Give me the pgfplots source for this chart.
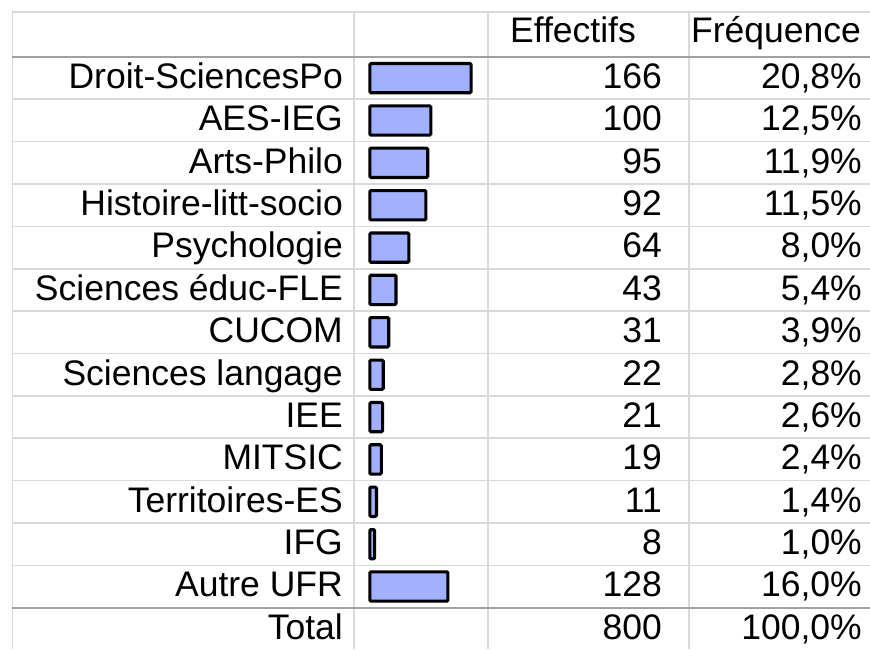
\documentclass[border=0pt]{standalone}
\usepackage{fontspec}
\setmainfont{Liberation Sans}
\usepackage{pgfplots}
\pgfplotsset{compat=1.18}
\usepackage{pgfplotstable}
\definecolor{barfill}{RGB}{161,176,255}
\definecolor{gridl}{RGB}{217,217,217}
\definecolor{gridd}{RGB}{160,160,160}

\pgfplotstableread[col sep=semicolon]{
label;n;freq;yc
Droit-SciencesPo;166;20,8\%;78.1
AES-IEG;100;12,5\%;120.5
Arts-Philo;95;11,9\%;162.8
Histoire-litt-socio;92;11,5\%;205.2
Psychologie;64;8,0\%;247.6
Sciences éduc-FLE;43;5,4\%;289.9
CUCOM;31;3,9\%;332.3
Sciences langage;22;2,8\%;374.7
IEE;21;2,6\%;417.1
MITSIC;19;2,4\%;459.4
Territoires-ES;11;1,4\%;501.8
IFG;8;1,0\%;544.2
Autre UFR;128;16,0\%;586.5
}\datatable

\begin{document}
\begin{tikzpicture}[x=1pt,y=-1pt]
\useasboundingbox (0,0) rectangle (870,649);
% grid
\foreach \k in {1,...,12}{
  \draw[gridl, line width=1.6pt] (12,{56.9+42.37*\k}) -- (870,{56.9+42.37*\k});
}
\draw[gridl, line width=1.6pt] (12,11.7) -- (870,11.7);
\foreach \xx in {12.3,354,488,689}{
  \draw[gridl, line width=1.6pt] (\xx,11.7) -- (\xx,649);
}
\draw[gridd, line width=1.8pt] (12,56.9) -- (870,56.9);
\draw[gridd, line width=1.8pt] (12,607.7) -- (870,607.7);

\begin{axis}[
  at={(0,0)}, anchor=north west,
  scale only axis, width=870pt, height=649pt,
  hide axis, clip=false,
  xmin=-606.2, xmax=820.0,
  ymin=0, ymax=649, y dir=reverse,
  xbar, bar width=29.3pt,
]
\addplot[draw=black, line width=3.1pt, fill=barfill, rounded corners=1.2pt]
  table[x=n, y=yc] {\datatable};
\end{axis}

% texts
\fontsize{35.5}{40}\selectfont
\node[anchor=base west, inner sep=0] at (510,42) {Effectifs};
\node[anchor=base west, inner sep=0] at (691,42) {Fréquence};
\pgfplotstablegetrowsof{\datatable}
\pgfmathtruncatemacro{\nrows}{\pgfplotsretval-1}
\foreach \r in {0,...,\nrows}{
  \pgfplotstablegetelem{\r}{label}\of{\datatable}\let\lab\pgfplotsretval
  \pgfplotstablegetelem{\r}{n}\of{\datatable}\let\nn\pgfplotsretval
  \pgfplotstablegetelem{\r}{freq}\of{\datatable}\let\ff\pgfplotsretval
  \pgfplotstablegetelem{\r}{yc}\of{\datatable}\let\yy\pgfplotsretval
  \node[anchor=base east, inner sep=0] at (343,{\yy+10.3}) {\lab};
  \node[anchor=base east, inner sep=0] at (662,{\yy+10.3}) {\nn};
  \node[anchor=base east, inner sep=0] at (862,{\yy+10.3}) {\ff};
}
\node[anchor=base east, inner sep=0] at (343,639.2) {Total};
\node[anchor=base east, inner sep=0] at (662,639.2) {800};
\node[anchor=base east, inner sep=0] at (862,639.2) {100,0\%};
\end{tikzpicture}
\end{document}
